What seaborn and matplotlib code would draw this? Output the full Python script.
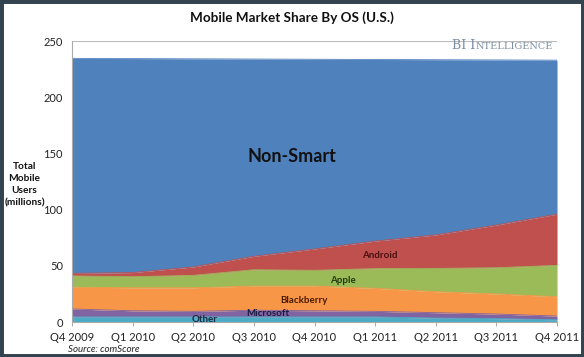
import matplotlib
matplotlib.use("Agg")
import matplotlib.pyplot as plt
import seaborn as sns
import pandas as pd
from matplotlib.patches import Rectangle

quarters = ["Q4 2009", "Q1 2010", "Q2 2010", "Q3 2010", "Q4 2010",
            "Q1 2011", "Q2 2011", "Q3 2011", "Q4 2011"]
other = [4.5, 4.5, 4.5, 4.5, 4.5, 4.5, 3.5, 3.0, 2.0]
microsoft = [7.1, 5.5, 5.0, 6.0, 5.5, 5.0, 4.8, 4.1, 3.3]
blackberry = [19.4, 20.5, 21.0, 21.5, 22.0, 20.5, 18.7, 17.9, 17.2]
apple = [10.0, 9.8, 11.0, 14.5, 14.0, 17.5, 20.7, 23.3, 27.9]
android = [2.3, 3.7, 7.5, 12.0, 19.0, 24.5, 29.8, 38.0, 45.6]
non_smart = [191.3, 190.4, 185.2, 175.5, 168.8, 161.6, 155.9, 146.9, 137.0]

series = ["Other", "Microsoft", "Blackberry", "Apple", "Android", "Non-Smart"]
df = pd.DataFrame({"Other": other, "Microsoft": microsoft, "Blackberry": blackberry,
                   "Apple": apple, "Android": android, "Non-Smart": non_smart},
                  index=quarters)

colors = sns.color_palette(["#4BACC6", "#8064A2", "#F79646", "#9BBB59", "#C0504D", "#4F81BD"])

sns.set_theme(style="white")
plt.rcParams["font.family"] = ["Lato", "DejaVu Sans"]

fig = plt.figure(figsize=(5.84, 3.57), dpi=100)
ax = fig.add_axes([0.1233, 0.098, 0.8305, 0.787])

x = list(range(len(quarters)))
ax.stackplot(x, [df[s] for s in series], colors=colors, linewidth=0)

# thin boundary lines to soften edges
cum = df[series].cumsum(axis=1)
for s, c in zip(series, colors):
    sns.lineplot(x=x, y=cum[s].values, ax=ax, color=c, linewidth=0.6)

ax.set_xlim(0, 8)
ax.set_ylim(0, 250)
ax.set_xticks(x)
ax.set_xticklabels(quarters, fontsize=8, color="#222222")
ax.set_yticks([0, 50, 100, 150, 200, 250])
ax.set_yticklabels(["0", "50", "100", "150", "200", "250"], fontsize=8, color="#222222")
ax.tick_params(axis="x", length=3, width=0.6, color="#999999", pad=4, direction="out", bottom=True)
ax.tick_params(axis="y", length=0, pad=6.5, left=False)
ax.axhline(250, color="#bbbbbb", linewidth=0.8)
for side in ["top", "right"]:
    ax.spines[side].set_visible(False)
for side in ["left", "bottom"]:
    ax.spines[side].set_color("#aaaaaa")
    ax.spines[side].set_linewidth(0.8)

# in-chart labels
ax.text(3.63, 147, "Non-Smart", fontsize=13, fontweight="bold", color="#111111", ha="center", va="center")
ax.text(5.08, 59, "Android", fontsize=7, fontweight="bold", color="#4a1010", ha="center", va="center")
ax.text(4.47, 36.5, "Apple", fontsize=7, fontweight="bold", color="#1f3a0a", ha="center", va="center")
ax.text(3.83, 19.5, "Blackberry", fontsize=7, fontweight="bold", color="#4a1a05", ha="center", va="center")
ax.text(3.23, 7.5, "Microsoft", fontsize=7, fontweight="bold", color="#1a1a40", ha="center", va="center")
ax.text(2.18, 2.3, "Other", fontsize=7, fontweight="bold", color="#1a2a40", ha="center", va="center")

fig.text(0.5, 0.95, "Mobile Market Share By OS (U.S.)", fontsize=9.7, fontweight="bold",
         color="#111111", ha="center", va="center")
fig.text(0.042, 0.483, "Total\nMobile\nUsers\n(millions)", fontsize=7.3, fontweight="bold",
         color="#111111", ha="center", va="center", linespacing=1.45)

# small-caps style brand mark
fig.canvas.draw()
tail = fig.text(0.946, 0.862, "NTELLIGENCE", fontsize=7, family="DejaVu Serif", color="#7d90a2",
                ha="right", va="baseline")
tail_box = tail.get_window_extent(fig.canvas.get_renderer())
fig.text(tail_box.x0 / fig.bbox.width, 0.862, "BI I", fontsize=9, family="DejaVu Serif",
         color="#7d90a2", ha="right", va="baseline")

fig.text(0.116, 0.022, "Source: comScore", fontsize=7, style="italic", color="#222222",
         ha="left", va="center")

fig.patches.append(Rectangle((0, 0), 1, 1, transform=fig.transFigure, fill=False,
                             edgecolor="#33434f", linewidth=5))

fig.savefig("out.png", dpi=100)
